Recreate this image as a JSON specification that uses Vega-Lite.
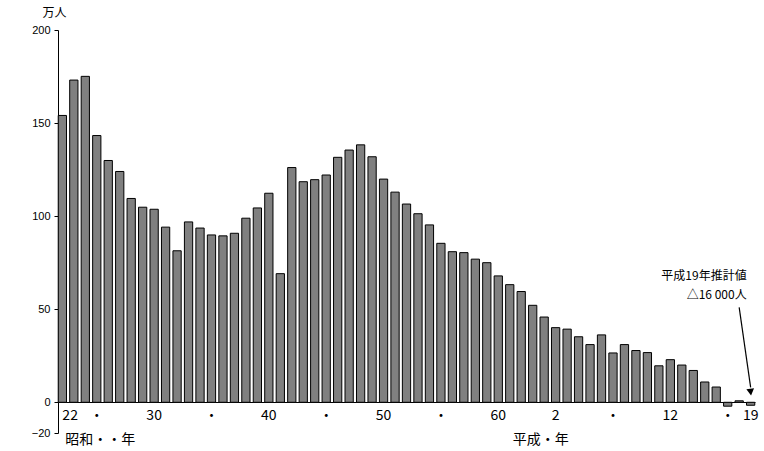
{
  "$schema": "https://vega.github.io/schema/vega-lite/v6.json",
  "autosize": "none",
  "width": 697,
  "height": 403,
  "padding": {"left": 58, "top": 30, "right": 9, "bottom": 18},
  "background": "white",
  "config": {"view": {"stroke": null}, "font": "Liberation Sans"},
  "datasets": {
    "bars": [
      {"year": 1947, "v": 154.1}, {"year": 1948, "v": 173.1}, {"year": 1949, "v": 175.1},
      {"year": 1950, "v": 143.3}, {"year": 1951, "v": 129.9}, {"year": 1952, "v": 124.0},
      {"year": 1953, "v": 109.5}, {"year": 1954, "v": 104.8}, {"year": 1955, "v": 103.7},
      {"year": 1956, "v": 94.1}, {"year": 1957, "v": 81.4}, {"year": 1958, "v": 96.9},
      {"year": 1959, "v": 93.6}, {"year": 1960, "v": 89.9}, {"year": 1961, "v": 89.4},
      {"year": 1962, "v": 90.8}, {"year": 1963, "v": 98.9}, {"year": 1964, "v": 104.4},
      {"year": 1965, "v": 112.3}, {"year": 1966, "v": 69.1}, {"year": 1967, "v": 126.1},
      {"year": 1968, "v": 118.5}, {"year": 1969, "v": 119.6}, {"year": 1970, "v": 122.1},
      {"year": 1971, "v": 131.6}, {"year": 1972, "v": 135.5}, {"year": 1973, "v": 138.3},
      {"year": 1974, "v": 131.9}, {"year": 1975, "v": 119.9}, {"year": 1976, "v": 112.9},
      {"year": 1977, "v": 106.5}, {"year": 1978, "v": 101.3}, {"year": 1979, "v": 95.3},
      {"year": 1980, "v": 85.4}, {"year": 1981, "v": 80.9}, {"year": 1982, "v": 80.4},
      {"year": 1983, "v": 76.9}, {"year": 1984, "v": 75.0}, {"year": 1985, "v": 67.9},
      {"year": 1986, "v": 63.2}, {"year": 1987, "v": 59.5}, {"year": 1988, "v": 52.1},
      {"year": 1989, "v": 45.8}, {"year": 1990, "v": 40.1}, {"year": 1991, "v": 39.3},
      {"year": 1992, "v": 35.2}, {"year": 1993, "v": 31.0}, {"year": 1994, "v": 36.2},
      {"year": 1995, "v": 26.5}, {"year": 1996, "v": 31.0}, {"year": 1997, "v": 27.8},
      {"year": 1998, "v": 26.7}, {"year": 1999, "v": 19.6}, {"year": 2000, "v": 22.9},
      {"year": 2001, "v": 20.0}, {"year": 2002, "v": 17.1}, {"year": 2003, "v": 10.9},
      {"year": 2004, "v": 8.2}, {"year": 2005, "v": -2.1}, {"year": 2006, "v": 0.8},
      {"year": 2007, "v": -1.6}
    ],
    "notes": [
      {"year": 2007, "v": 67.6, "t": "平成19年推計値"},
      {"year": 2007, "v": 57.8, "t": "△16 000人"}
    ],
    "eras": [
      {"year": 1947, "v": -20, "t": "昭和・・年"},
      {"year": 1986, "v": -20, "t": "平成・年"}
    ],
    "arrow": [
      {"year": 2006, "v": 51, "year2": 2007, "v2": 8}
    ],
    "head": [
      {"year": 2007, "v": 5.5}
    ]
  },
  "layer": [
    {
      "data": {"name": "bars"},
      "mark": {"type": "bar", "fill": "#808080", "stroke": "black", "strokeWidth": 1},
      "encoding": {
        "x": {
          "field": "year", "type": "ordinal",
          "scale": {"paddingInner": 0.28, "paddingOuter": 0.02},
          "axis": {
            "title": null,
            "offset": -31,
            "domainColor": "black",
            "ticks": false,
            "labelAngle": 0,
            "labelFlush": false,
            "labelAlign": {"expr": "datum.value == 1947 ? 'left' : 'center'"},
            "labelPadding": 6,
            "labelFontSize": 14,
            "labelColor": "black",
            "labelFont": "Noto Sans CJK JP",
            "values": [1947, 1950, 1955, 1960, 1965, 1970, 1975, 1980, 1985, 1990, 1995, 2000, 2005, 2007],
            "labelExpr": "['22','・','30','・','40','・','50','・','60','2','・','12','・','19'][indexof([1947,1950,1955,1960,1965,1970,1975,1980,1985,1990,1995,2000,2005,2007], datum.value)]"
          }
        },
        "y": {
          "field": "v", "type": "quantitative",
          "scale": {"domain": [-16.5, 200], "nice": false, "zero": false},
          "axis": {
            "title": "万人",
            "titleAngle": 0,
            "titleFont": "Noto Sans CJK JP",
            "titleFontSize": 12,
            "titleFontWeight": "normal",
            "titleAlign": "center",
            "titleBaseline": "middle",
            "titleX": -4,
            "titleY": -18,
            "grid": false,
            "values": [-16.5, 0, 50, 100, 150, 200],
            "labelExpr": "datum.value < 0 ? '−20' : datum.label",
            "labelFontSize": 11,
            "labelColor": "black",
            "domainColor": "black",
            "tickColor": "black",
            "tickSize": 4,
            "labelPadding": 4
          }
        }
      }
    },
    {
      "data": {"name": "arrow"},
      "mark": {"type": "rule", "stroke": "black", "strokeWidth": 1.2},
      "encoding": {
        "x": {"field": "year", "type": "ordinal"},
        "x2": {"field": "year2"},
        "y": {"field": "v", "type": "quantitative"},
        "y2": {"field": "v2"}
      }
    },
    {
      "data": {"name": "head"},
      "mark": {"type": "point", "shape": "triangle-down", "filled": true, "fill": "black", "opacity": 1, "size": 60, "angle": -7},
      "encoding": {
        "x": {"field": "year", "type": "ordinal"},
        "y": {"field": "v", "type": "quantitative"}
      }
    },
    {
      "data": {"name": "notes"},
      "mark": {"type": "text", "align": "right", "baseline": "middle", "dx": -4, "font": "Noto Sans CJK JP", "fontSize": 12, "color": "black"},
      "encoding": {
        "x": {"field": "year", "type": "ordinal"},
        "y": {"field": "v", "type": "quantitative"},
        "text": {"field": "t"}
      }
    },
    {
      "data": {"name": "eras"},
      "mark": {"type": "text", "align": "left", "baseline": "middle", "dx": 3, "font": "Noto Sans CJK JP", "fontSize": 14, "color": "black"},
      "encoding": {
        "x": {"field": "year", "type": "ordinal"},
        "y": {"field": "v", "type": "quantitative"},
        "text": {"field": "t"}
      }
    }
  ]
}
